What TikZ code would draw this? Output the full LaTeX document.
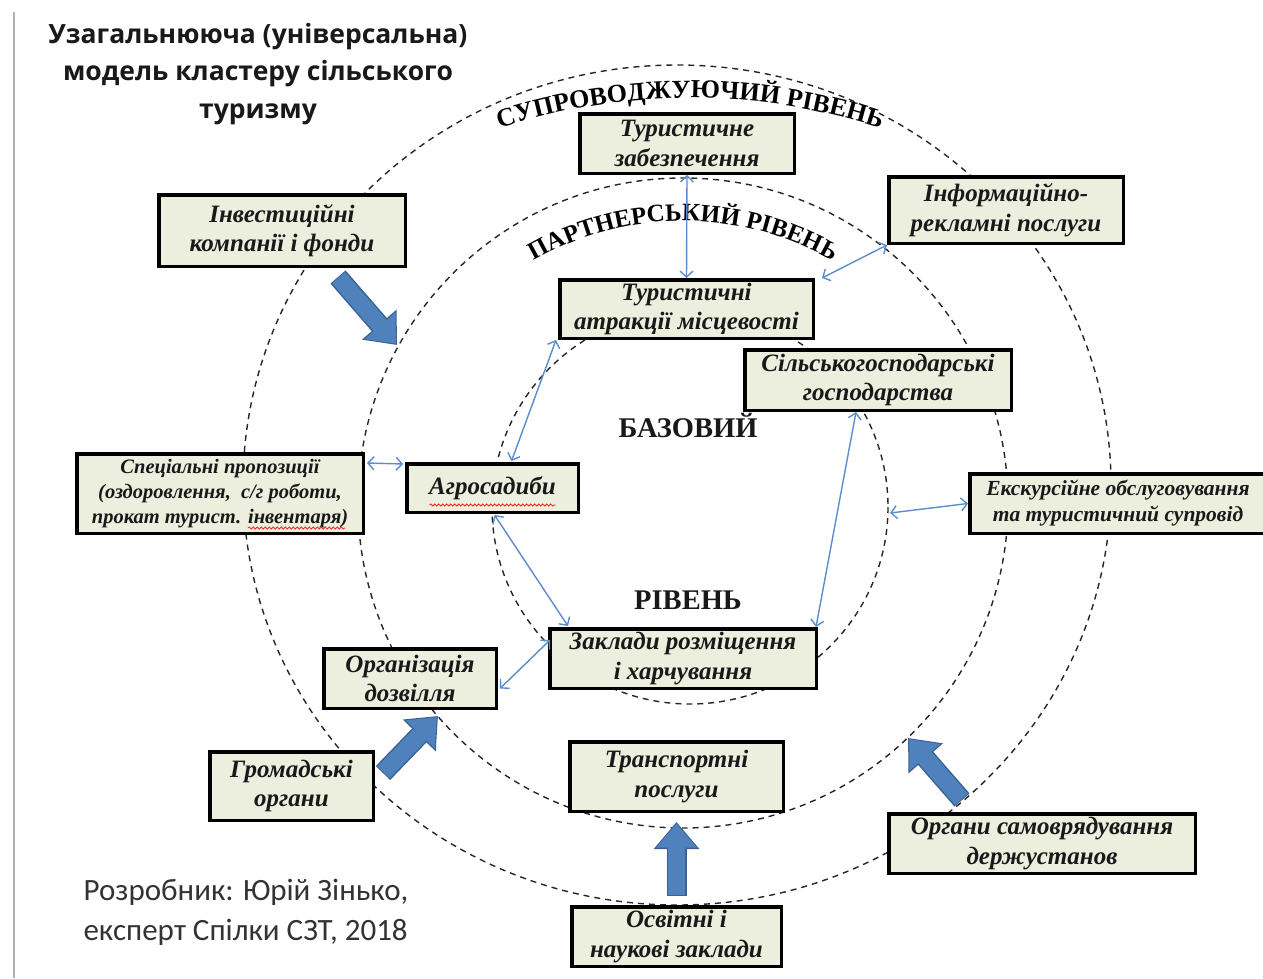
\documentclass[tikz,border=0pt]{standalone}
\usepackage{fontspec}
\setmainfont{Liberation Serif}
\newfontfamily\titlefont{Open Sans}
\newfontfamily\creditfont{Carlito}
\usetikzlibrary{arrows.meta,decorations.text,decorations.pathmorphing,shadows,calc}
\definecolor{boxfill}{RGB}{236,238,222}
\definecolor{thinblue}{RGB}{91,141,205}
\definecolor{blockblue}{RGB}{79,129,189}
\definecolor{blockedge}{RGB}{58,98,148}
\tikzset{
  box/.style={draw=black, line width=3.5pt, fill=boxfill, align=center, inner sep=0.5pt,
    font=\bfseries\itshape\fontsize{25}{29.5}\selectfont, text=black!90,
    general shadow={fill=black!25, shadow xshift=2pt, shadow yshift=-2pt}},
  smallbox/.style={box, font=\bfseries\itshape\fontsize{20.5}{25}\selectfont},
  midbox/.style={box, font=\bfseries\itshape\fontsize{21.5}{26}\selectfont},
  ring/.style={draw=black!85, line width=1.4pt, dash pattern=on 6pt off 5pt},
  thinarrow/.style={thinblue, line width=1.4pt,
    {Straight Barb[length=6pt,width=13pt]}-{Straight Barb[length=6pt,width=13pt]}},
  blockouter/.style={blockedge, line width=20pt, -{Triangle[length=27pt,width=44pt]}},
  blockinner/.style={blockblue, line width=17pt, -{Triangle[length=24pt,width=39pt]}, shorten >=1.6pt, shorten <=1pt},
  leveltext/.style={font=\bfseries\fontsize{28.5}{28.5}\selectfont, text=black!90},
  spell/.style={red!85, line width=0.8pt, decorate, decoration={snake, amplitude=1.1pt, segment length=4pt}}
}
\begin{document}
\begin{tikzpicture}[x=1pt,y=-1pt]
\useasboundingbox (0,0) rectangle (1263,978);
\fill[white] (0,0) rectangle (1263,978);
\draw[black!30, line width=2pt] (14,12) -- (14,978);

% title and credit
\node[font=\titlefont\bfseries\fontsize{26.5}{37.5}\selectfont, align=center, text=black!90] (title) at (258,74)
  {Узагальнююча (універсальна)\\модель кластеру сільського\\туризму};
\node[font=\creditfont\fontsize{31}{40}\selectfont, align=left, anchor=west, text=black!80] (credit) at (80,912)
  {Розробник: Юрій Зінько,\\експерт Спілки СЗТ, 2018};

% rings
\draw[ring] (677,485) ellipse [x radius=434, y radius=420];
\draw[ring] (683,503) circle [radius=325];
\draw[ring] (690,507) ellipse [x radius=198, y radius=197];

% ring labels
\path[decorate, decoration={text along path, text align=center,
  text={|\bfseries\fontsize{26}{26}\selectfont|СУПРОВОДЖУЮЧИЙ РІВЕНЬ}}]
  (690,713) ++(-112:615) arc[start angle=-112, end angle=-68, radius=615];
\path[decorate, decoration={text along path, text align=center,
  text={|\bfseries\fontsize{25}{25}\selectfont|ПАРТНЕРСЬКИЙ РІВЕНЬ}}]
  (683,521) ++(-128:300) arc[start angle=-128, end angle=-52, radius=300];
\node[leveltext] (base) at (688,425) {БАЗОВИЙ};
\node[leveltext] (lev) at (688,600) {РІВЕНЬ};

% boxes
\node[box, minimum width=214.5pt, minimum height=59.5pt] (tz) at (687,143.5) {Туристичне\\забезпечення};
\node[box, minimum width=234.5pt, minimum height=66.5pt] (ir) at (1006,210) {Інформаційно-\\рекламні послуги};
\node[box, minimum width=246.5pt, minimum height=71.5pt] (inv) at (282,230.5) {Інвестиційні\\компанії і фонди};
\node[box, minimum width=253.5pt, minimum height=58.5pt] (ta) at (686.5,309) {Туристичні\\атракції місцевості};
\node[box, minimum width=266.5pt, minimum height=60.5pt] (sg) at (878,380) {Сільськогосподарські\\господарства};
\node[smallbox, minimum width=286.5pt, minimum height=79.5pt] (sp) at (220,493.5) {Спеціальні пропозиції\\(оздоровлення,\ \ с/г роботи,\\прокат турист. інвентаря)};
\node[box, minimum width=171.5pt, minimum height=48.5pt] (ag) at (492.5,488) {Агросадиби};
\node[midbox, minimum width=296.5pt, minimum height=59.5pt] (ek) at (1118,503.5) {Екскурсійне обслуговування\\та туристичний супровід};
\node[box, minimum width=266.5pt, minimum height=59.5pt] (zr) at (683,658.5) {Заклади розміщення\\і харчування};
\node[box, minimum width=172.5pt, minimum height=59.5pt] (od) at (410,678.5) {Організація\\дозвілля};
\node[box, minimum width=213.5pt, minimum height=69.5pt] (tp) at (676.5,776.5) {Транспортні\\послуги};
\node[box, minimum width=163.5pt, minimum height=68.5pt] (go) at (291.5,786) {Громадські\\органи};
\node[box, minimum width=306.5pt, minimum height=59.5pt] (os) at (1042,843.5) {Органи самоврядування\\держустанов};
\node[box, minimum width=209.5pt, minimum height=59.5pt] (ed) at (676.5,936.5) {Освітні і\\наукові заклади};

% spell-check underlines
\draw[spell] ($(ag.south)+(-63,-9)$) -- ($(ag.south)+(63,-9)$);
\draw[spell] ($(sp.south)+(28,-7)$) -- ($(sp.south)+(125,-7)$);

% thin double arrows
\coordinate (ekend) at (890,513);
\draw[thinarrow] (tz.south) -- (ta.north);
\draw[thinarrow] (ir.south west) -- ($(ta.north east)+(7,0)$);
\draw[thinarrow] ($(sp.north east)+(2,11)$) -- ($(ag.north west)+(-2,2)$);
\draw[thinarrow] ($(ta.south west)+(-2,0)$) -- ($(ag.north)+(19,-1)$);
\draw[thinarrow] ($(ag.south)+(2,1)$) -- ($(zr.north west)+(20,-1)$);
\draw[thinarrow] ($(sg.south)+(-22,0)$) -- ($(zr.north east)+(-2,0)$);
\draw[thinarrow] (ek.west) -- (ekend);
\draw[thinarrow] ($(od.east)+(2,10)$) -- ($(zr.north west)+(2,13)$);

% block arrows
\coordinate (b1s) at (338,277); \coordinate (b1e) at (397,345);
\coordinate (b2s) at (383,773); \coordinate (b2e) at (438,716);
\coordinate (b3s) at (676.5,896); \coordinate (b3e) at (676.5,822);
\coordinate (b4s) at (962,800); \coordinate (b4e) at (908,738);
\foreach \s/\e in {b1s/b1e, b2s/b2e, b3s/b3e, b4s/b4e}{
  \draw[blockouter] (\s) -- (\e);
  \draw[blockinner] (\s) -- (\e);
}
\end{tikzpicture}
\end{document}
